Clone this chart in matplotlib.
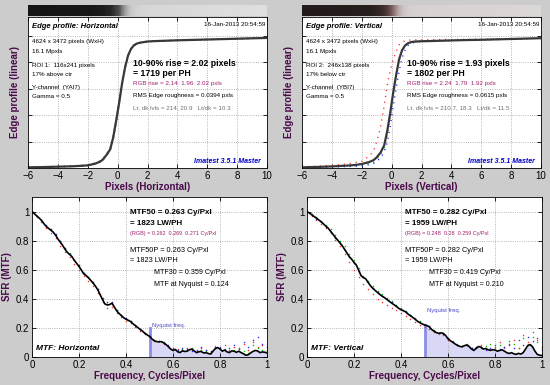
import numpy as np
import matplotlib.pyplot as plt
from matplotlib.colors import LinearSegmentedColormap

plt.rcParams['font.family'] = ['Liberation Sans', 'DejaVu Sans']

# ---- edge profile data (pixels vs normalized level) ----
x_edge = [-6, -5, -4, -3, -2.5, -2, -1.5, -1.2, -1, -0.75, -0.5, -0.3, -0.1, 0.1, 0.3,
          0.5, 0.7, 0.9, 1.1, 1.3, 1.5, 2, 2.5, 3, 4, 5, 6, 7, 8, 9, 10]

edge_h = [0.005, 0.007, 0.010, 0.013, 0.016, 0.020, 0.033, 0.047, 0.062, 0.098, 0.140, 0.228, 0.355, 0.490, 0.640,
          0.760, 0.850, 0.900, 0.927, 0.940, 0.946, 0.955, 0.958, 0.960, 0.964, 0.967, 0.970, 0.973, 0.976, 0.979, 0.982]
edge_h_r = [0.006, 0.008, 0.011, 0.015, 0.019, 0.025, 0.038, 0.052, 0.068, 0.105, 0.150, 0.240, 0.365, 0.500, 0.648,
            0.765, 0.852, 0.902, 0.928, 0.941, 0.947, 0.955, 0.958, 0.960, 0.964, 0.967, 0.970, 0.973, 0.976, 0.979, 0.982]
edge_h_g = [0.005, 0.007, 0.010, 0.013, 0.015, 0.019, 0.031, 0.045, 0.060, 0.096, 0.138, 0.225, 0.352, 0.488, 0.638,
            0.758, 0.849, 0.899, 0.926, 0.940, 0.946, 0.955, 0.958, 0.960, 0.964, 0.967, 0.970, 0.973, 0.976, 0.979, 0.982]
edge_h_b = [0.004, 0.006, 0.009, 0.012, 0.014, 0.017, 0.029, 0.043, 0.058, 0.092, 0.133, 0.218, 0.345, 0.482, 0.634,
            0.755, 0.847, 0.898, 0.925, 0.939, 0.946, 0.955, 0.958, 0.960, 0.964, 0.967, 0.970, 0.973, 0.976, 0.979, 0.982]

edge_v = [0.005, 0.008, 0.012, 0.018, 0.022, 0.030, 0.045, 0.060, 0.080, 0.115, 0.170, 0.275, 0.410, 0.565, 0.700,
          0.820, 0.890, 0.925, 0.942, 0.950, 0.954, 0.957, 0.958, 0.960, 0.963, 0.966, 0.968, 0.971, 0.974, 0.977, 0.980]
edge_v_r = [0.010, 0.013, 0.020, 0.030, 0.040, 0.050, 0.090, 0.130, 0.200, 0.300, 0.470, 0.620, 0.730, 0.820, 0.880,
            0.930, 0.950, 0.960, 0.965, 0.966, 0.967, 0.968, 0.968, 0.969, 0.970, 0.971, 0.972, 0.974, 0.976, 0.978, 0.980]
edge_v_g = [0.004, 0.006, 0.010, 0.014, 0.017, 0.020, 0.035, 0.045, 0.065, 0.100, 0.150, 0.250, 0.390, 0.550, 0.690,
            0.810, 0.885, 0.920, 0.940, 0.949, 0.953, 0.957, 0.958, 0.960, 0.963, 0.966, 0.968, 0.971, 0.974, 0.977, 0.980]
edge_v_b = [0.004, 0.005, 0.008, 0.011, 0.013, 0.015, 0.025, 0.035, 0.050, 0.075, 0.120, 0.190, 0.310, 0.460, 0.600,
            0.730, 0.830, 0.890, 0.925, 0.940, 0.948, 0.956, 0.958, 0.960, 0.963, 0.966, 0.968, 0.971, 0.974, 0.977, 0.980]

# ---- MTF data ----
freq = np.linspace(0, 1, 101)       # black curve sampling, cycles/pixel
freq_rgb = np.linspace(0, 1, 51)    # colour channel sampling

mtf_h = [1.000, 0.985, 0.970, 0.956, 0.940, 0.918, 0.898, 0.885, 0.872, 0.859,
         0.838, 0.812, 0.790, 0.768, 0.742, 0.720, 0.705, 0.690, 0.665, 0.644,
         0.622, 0.598, 0.572, 0.560, 0.545, 0.527, 0.508, 0.487, 0.462, 0.428,
         0.395, 0.365, 0.358, 0.360, 0.370, 0.345, 0.318, 0.300, 0.285, 0.270,
         0.260, 0.252, 0.243, 0.228, 0.215, 0.203, 0.190, 0.178, 0.163, 0.152,
         0.142, 0.125, 0.112, 0.106, 0.104, 0.106, 0.098, 0.086, 0.072, 0.055,
         0.045, 0.052, 0.036, 0.030, 0.042, 0.038, 0.040, 0.050, 0.055, 0.042,
         0.030, 0.036, 0.038, 0.028, 0.030, 0.024, 0.020, 0.040, 0.058, 0.065,
         0.055, 0.040, 0.048, 0.035, 0.030, 0.042, 0.040, 0.032, 0.040, 0.030,
         0.022, 0.012, 0.015, 0.028, 0.038, 0.045, 0.042, 0.030, 0.035, 0.033,
         0.028]
mtf_h_r = [0.995, 0.962, 0.925, 0.885, 0.855, 0.815, 0.765, 0.720, 0.685, 0.640,
           0.600, 0.555, 0.520, 0.485, 0.440, 0.375, 0.335, 0.345, 0.300, 0.275,
           0.250, 0.235, 0.208, 0.182, 0.158, 0.135, 0.110, 0.108, 0.092, 0.068,
           0.048, 0.055, 0.050, 0.060, 0.045, 0.040, 0.065, 0.050, 0.035, 0.075,
           0.060, 0.080, 0.050, 0.070, 0.060, 0.090, 0.045, 0.100, 0.070, 0.080,
           0.050]
mtf_h_g = [1.000, 0.972, 0.945, 0.902, 0.878, 0.842, 0.800, 0.750, 0.712, 0.668,
           0.628, 0.578, 0.550, 0.512, 0.465, 0.400, 0.365, 0.372, 0.322, 0.288,
           0.262, 0.246, 0.218, 0.192, 0.165, 0.145, 0.115, 0.108, 0.100, 0.075,
           0.050, 0.040, 0.055, 0.045, 0.060, 0.035, 0.045, 0.040, 0.030, 0.070,
           0.065, 0.055, 0.040, 0.050, 0.065, 0.040, 0.030, 0.080, 0.060, 0.050,
           0.040]
mtf_h_b = [1.000, 0.970, 0.945, 0.905, 0.880, 0.845, 0.795, 0.748, 0.710, 0.670,
           0.630, 0.580, 0.552, 0.515, 0.470, 0.405, 0.375, 0.380, 0.325, 0.290,
           0.265, 0.248, 0.220, 0.195, 0.168, 0.145, 0.118, 0.110, 0.095, 0.080,
           0.060, 0.050, 0.060, 0.055, 0.040, 0.050, 0.070, 0.045, 0.040, 0.060,
           0.070, 0.050, 0.060, 0.080, 0.055, 0.100, 0.070, 0.120, 0.140, 0.090,
           0.070]

mtf_v = [1.000, 0.990, 0.978, 0.966, 0.955, 0.942, 0.930, 0.915, 0.900, 0.886,
         0.865, 0.845, 0.823, 0.805, 0.785, 0.765, 0.740, 0.715, 0.690, 0.672,
         0.650, 0.632, 0.595, 0.560, 0.545, 0.538, 0.512, 0.490, 0.472, 0.458,
         0.443, 0.430, 0.418, 0.408, 0.396, 0.383, 0.371, 0.360, 0.348, 0.335,
         0.325, 0.318, 0.310, 0.295, 0.284, 0.272, 0.260, 0.246, 0.236, 0.228,
         0.220, 0.216, 0.208, 0.190, 0.178, 0.168, 0.163, 0.166, 0.162, 0.148,
         0.125, 0.112, 0.102, 0.090, 0.080, 0.073, 0.070, 0.078, 0.083, 0.072,
         0.055, 0.045, 0.060, 0.072, 0.068, 0.055, 0.058, 0.050, 0.046, 0.050,
         0.048, 0.040, 0.045, 0.050, 0.040, 0.030, 0.024, 0.030, 0.022, 0.018,
         0.025, 0.020, 0.030, 0.055, 0.080, 0.085, 0.070, 0.040, 0.018, 0.012,
         0.010]
mtf_v_r = [0.998, 0.972, 0.945, 0.915, 0.885, 0.850, 0.805, 0.760, 0.705, 0.650,
           0.600, 0.550, 0.500, 0.470, 0.430, 0.400, 0.380, 0.360, 0.340, 0.320,
           0.300, 0.285, 0.262, 0.240, 0.220, 0.205, 0.195, 0.170, 0.160, 0.150,
           0.120, 0.100, 0.085, 0.075, 0.090, 0.065, 0.070, 0.080, 0.060, 0.050,
           0.070, 0.100, 0.060, 0.080, 0.120, 0.060, 0.150, 0.100, 0.170, 0.120,
           0.060]
mtf_v_g = [1.000, 0.985, 0.962, 0.938, 0.910, 0.878, 0.838, 0.800, 0.760, 0.710,
           0.665, 0.615, 0.560, 0.525, 0.488, 0.455, 0.430, 0.408, 0.382, 0.358,
           0.335, 0.318, 0.292, 0.268, 0.245, 0.228, 0.212, 0.185, 0.168, 0.165,
           0.130, 0.110, 0.090, 0.078, 0.085, 0.065, 0.070, 0.060, 0.075, 0.090,
           0.060, 0.080, 0.070, 0.110, 0.090, 0.060, 0.130, 0.080, 0.140, 0.100,
           0.070]
mtf_v_b = [1.000, 0.975, 0.950, 0.928, 0.895, 0.860, 0.818, 0.782, 0.738, 0.688,
           0.648, 0.592, 0.548, 0.515, 0.475, 0.446, 0.420, 0.400, 0.376, 0.352,
           0.328, 0.312, 0.288, 0.262, 0.240, 0.222, 0.210, 0.180, 0.165, 0.160,
           0.128, 0.105, 0.082, 0.075, 0.080, 0.060, 0.065, 0.070, 0.050, 0.060,
           0.080, 0.055, 0.070, 0.090, 0.060, 0.120, 0.080, 0.140, 0.110, 0.130,
           0.050]

nyq_top = [0.20, 0.22]
nyq_label_y = [0.20, 0.30]

# ---- text ----
edge_titles = ['Edge profile: Horizontal', 'Edge profile: Vertical']
stamp = '16-Jan-2013 20:54:59'
info_lines = [
    ['4624 x 3472 pixels (WxH)', '16.1 Mpxls', 'ROI 1:  116x241 pixels', '17% above ctr',
     'Y-channel  (YAI7)', 'Gamma = 0.5'],
    ['4624 x 3472 pixels (WxH)', '16.1 Mpxls', 'ROI 2:  246x138 pixels', '17% below ctr',
     'Y-channel  (YBI7)', 'Gamma = 0.5'],
]
rise_lines = [
    ['10-90% rise = 2.02 pixels', '= 1719 per PH', 'RGB rise = 2.14  1.96  2.02 pxls',
     'RMS Edge roughness = 0.0394 pxls', 'Lt, dk lvls = 214, 20.9   Lt/dk = 10.3'],
    ['10-90% rise = 1.93 pixels', '= 1802 per PH', 'RGB rise = 2.24  1.79  1.92 pxls',
     'RMS Edge roughness = 0.0615 pxls', 'Lt, dk lvls = 210.7, 18.3   Lt/dk = 11.5'],
]
mtf_lines = [
    ['MTF50 = 0.263 Cy/Pxl', '= 1823 LW/PH', '(RGB) = 0.262  0.269  0.271 Cy/Pxl',
     'MTF50P = 0.263 Cy/Pxl', '= 1823 LW/PH', 'MTF30 = 0.359 Cy/Pxl', 'MTF at Nyquist = 0.124'],
    ['MTF50 = 0.282 Cy/Pxl', '= 1959 LW/PH', '(RGB) = 0.248  0.28  0.259 Cy/Pxl',
     'MTF50P = 0.282 Cy/Pxl', '= 1959 LW/PH', 'MTF30 = 0.419 Cy/Pxl', 'MTF at Nyquist = 0.210'],
]
mtf_titles = ['MTF: Horizontal', 'MTF: Vertical']
edge_xlabels = ['Pixels (Horizontal)', 'Pixels (Vertical)']

W, H = 550, 385
PURPLE = '#4a0a4a'
MAGENTA = '#a0206e'
BG = '#cccccc'

fig = plt.figure(figsize=(W / 100, H / 100), dpi=100, facecolor=BG)


def rect(x0, y0, x1, y1):
    return [x0 / W, 1 - y1 / H, (x1 - x0) / W, (y1 - y0) / H]


def ftext(x, y, s, **kw):
    kw.setdefault('va', 'center')
    kw.setdefault('fontsize', 4.5)
    fig.text(x / W, 1 - y / H, s, **kw)


def style(ax):
    ax.tick_params(direction='in', top=True, right=True, length=3, width=0.6,
                   labelsize=7, pad=2)
    ax.grid(True, linestyle=':', color='#a0a0a0', linewidth=0.6)
    for s in ax.spines.values():
        s.set_linewidth(0.6)


grey_cmap = LinearSegmentedColormap.from_list('g', ['#151515', '#505050', '#e4e4e4'])
red_cmap = LinearSegmentedColormap.from_list('r', ['#221a1a', '#7a5858', '#e0dcdc'])
edges = [(edge_h, edge_h_r, edge_h_g, edge_h_b, grey_cmap),
         (edge_v, edge_v_r, edge_v_g, edge_v_b, red_cmap)]
sparse_dots = (0, (0.8, 3.5))

for i, (k, kr, kg, kb, cmap) in enumerate(edges):
    dx = 274 * i
    # gradient strip
    gax = fig.add_axes(rect(28 + dx, 5, 267 + dx, 16))
    vals = np.array(k)
    gax.pcolormesh(x_edge, [0, 1], np.vstack([vals, vals]), cmap=cmap,
                   shading='gouraud', vmin=0, vmax=1)
    gax.set_xlim(-6, 10)
    gax.axis('off')

    ax = fig.add_axes(rect(28 + dx, 17, 267 + dx, 168))
    ax.plot(x_edge, kr, linestyle=sparse_dots, color='#ff2020', lw=1.0)
    ax.plot(x_edge, kg, linestyle=sparse_dots, color='#00c000', lw=1.0)
    ax.plot(x_edge, kb, linestyle=sparse_dots, color='#2020ff', lw=1.0)
    ax.plot(x_edge, k, '-', color='#383838', lw=1.6)
    ax.set_xlim(-6, 10)
    ax.set_ylim(0, 1.14)
    ax.set_xticks(range(-6, 11, 2))
    ax.set_yticks([0.2, 0.4, 0.6, 0.8, 1.0])
    ax.set_yticklabels([])
    style(ax)
    ax.set_xlabel(edge_xlabels[i], color=PURPLE, fontsize=7, fontweight='bold', labelpad=1)
    ax.set_ylabel('Edge profile (linear)', color=PURPLE, fontsize=7, fontweight='bold', labelpad=4)

    ftext(32 + dx, 26, edge_titles[i], fontsize=5.5, fontweight='bold', style='italic')
    ftext(265 + dx, 25, stamp, ha='right')
    for y, s in zip([41, 52, 65, 75, 87, 97], info_lines[i]):
        ftext(32 + dx, y, s)
    r = rise_lines[i]
    ftext(133 + dx, 63.5, r[0], fontsize=6.3, fontweight='bold')
    ftext(133 + dx, 73, r[1], fontsize=6.3, fontweight='bold')
    ftext(133 + dx, 84, r[2], color=MAGENTA)
    ftext(133 + dx, 96, r[3])
    ftext(133 + dx, 108, r[4], color='#707070')
    ftext(261 + dx, 162, 'Imatest 3.5.1 Master', ha='right', color='#0000c8',
          fontsize=5, fontweight='bold', style='italic')

mtfs = [(mtf_h, mtf_h_r, mtf_h_g, mtf_h_b), (mtf_v, mtf_v_r, mtf_v_g, mtf_v_b)]

for i, (k, kr, kg, kb) in enumerate(mtfs):
    dx = 275 * i
    ax = fig.add_axes(rect(32 + dx, 197, 267 + dx, 357))
    k = np.array(k)
    mask = freq >= 0.5
    ax.fill_between(freq[mask], 0, k[mask], color='#d8d8f6', lw=0)
    ax.plot([0.5, 0.5], [0, nyq_top[i]], color='#8c8ce6', lw=2)
    ax.text(0.51, nyq_label_y[i], 'Nyquist freq.', color='#4646c8', fontsize=4.2, va='bottom')
    ax.plot(freq_rgb, kr, '.', color='#ff3030', ms=2.2, mew=0)
    ax.plot(freq_rgb, kg, '.', color='#00c000', ms=2.2, mew=0)
    ax.plot(freq_rgb, kb, '.', color='#3030ff', ms=2.2, mew=0)
    ax.plot(freq, k, '-', color='black', lw=1.2)
    ax.set_xlim(0, 1)
    ax.set_ylim(0, 1.1)
    ax.set_xticks([0, 0.2, 0.4, 0.6, 0.8, 1])
    ax.set_xticklabels(['0', '0.2', '0.4', '0.6', '0.8', '1'])
    ax.set_yticks([0, 0.2, 0.4, 0.6, 0.8, 1])
    ax.set_yticklabels(['0', '0.2', '0.4', '0.6', '0.8', '1'])
    style(ax)
    ax.set_xlabel('Frequency, Cycles/Pixel', color=PURPLE, fontsize=7, fontweight='bold', labelpad=1)
    ax.set_ylabel('SFR (MTF)', color=PURPLE, fontsize=7, fontweight='bold', labelpad=3)

    m = mtf_lines[i]
    ftext(130 + dx, 213, m[0], fontsize=5.8, fontweight='bold')
    ftext(130 + dx, 223.5, m[1], fontsize=5.8, fontweight='bold')
    ftext(130 + dx, 234, m[2], fontsize=4, color=MAGENTA)
    ftext(130 + dx, 250, m[3], fontsize=5.3)
    ftext(130 + dx, 260, m[4], fontsize=5.3)
    ftext(154 + dx, 273, m[5], fontsize=5.1)
    ftext(154 + dx, 284, m[6], fontsize=5.1)
    ftext(36 + dx, 348, mtf_titles[i], fontsize=6, fontweight='bold', style='italic')

fig.savefig('out.png', dpi=100, facecolor=BG)
